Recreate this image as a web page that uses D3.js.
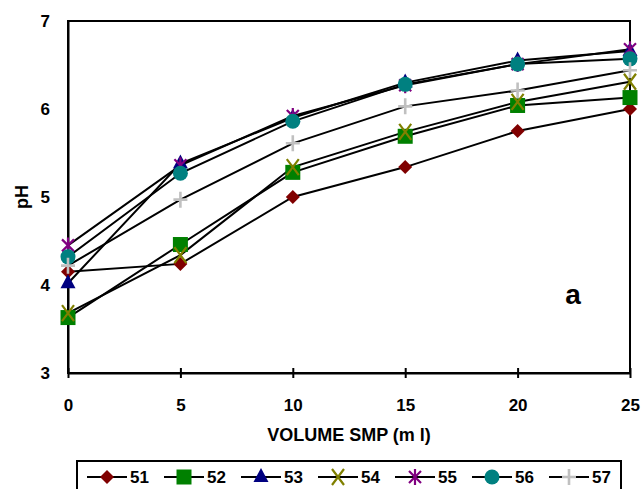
<!DOCTYPE html>
<html>
<head>
<meta charset="utf-8">
<script src="https://cdn.jsdelivr.net/npm/d3@7"></script>
<style>
  body { margin: 0; background: #fff; }
  svg { display: block; font-family: "Liberation Sans", Arial, sans-serif; font-weight: bold; }
</style>
</head>
<body>
<div id="chart"></div>
<script>
// chart data
const volumes = [0, 5, 10, 15, 20, 25];
const seriesNames = ["51", "52", "53", "54", "55", "56", "57"];
const ph51 = [4.15, 4.24, 5.00, 5.34, 5.75, 6.00];
const ph52 = [3.63, 4.46, 5.28, 5.69, 6.04, 6.13];
const ph53 = [4.02, 5.38, 5.90, 6.30, 6.55, 6.66];
const ph54 = [3.68, 4.34, 5.34, 5.74, 6.08, 6.31];
const ph55 = [4.45, 5.36, 5.92, 6.27, 6.51, 6.68];
const ph56 = [4.32, 5.27, 5.86, 6.28, 6.51, 6.57];
const ph57 = [4.22, 4.97, 5.61, 6.03, 6.21, 6.44];
const xTicks = [0, 5, 10, 15, 20, 25];
const yTicks = [3, 4, 5, 6, 7];

const allSeries = [ph51, ph52, ph53, ph54, ph55, ph56, ph57];
const markerColors = ["#800000", "#008000", "#000080", "#808000", "#800080", "#008080", "#c0c0c0"];
const markerShapes = ["diamond", "square", "triangle", "x", "star", "circle", "plus"];

const width = 641, height = 489;
const plot = { left: 68, right: 630, top: 21, bottom: 373 };
const font = "Liberation Sans, Arial, sans-serif";

const svg = d3.select("#chart").append("svg")
  .attr("width", width)
  .attr("height", height);

const x = d3.scaleLinear().domain([0, 25]).range([plot.left, plot.right]);
const y = d3.scaleLinear().domain([3, 7]).range([plot.bottom, plot.top]);

// draw one marker at (cx, cy)
function drawMarker(g, shape, color, cx, cy) {
  const m = g.append("g").attr("transform", `translate(${cx},${cy})`);
  if (shape === "diamond") {
    m.append("path").attr("d", "M0,-7L7,0L0,7L-7,0Z").attr("fill", color);
  } else if (shape === "square") {
    m.append("rect").attr("x", -7.5).attr("y", -7.5).attr("width", 15).attr("height", 15).attr("fill", color);
  } else if (shape === "triangle") {
    m.append("path").attr("d", "M0,-9L7.5,5L-7.5,5Z").attr("fill", color);
  } else if (shape === "circle") {
    m.append("circle").attr("r", 7.5).attr("fill", color);
  } else if (shape === "x") {
    m.append("path").attr("d", "M-6,-8L6,8M6,-8L-6,8")
      .attr("stroke", color).attr("stroke-width", 2.2).attr("fill", "none");
  } else if (shape === "star") {
    m.append("path").attr("d", "M0,-8L0,8M-6,-6L6,6M6,-6L-6,6")
      .attr("stroke", color).attr("stroke-width", 2.2).attr("fill", "none");
  } else if (shape === "plus") {
    m.append("path").attr("d", "M0,-8L0,8M-7,0L7,0")
      .attr("stroke", color).attr("stroke-width", 2.6).attr("fill", "none");
  }
}

// plot frame
svg.append("rect")
  .attr("x", plot.left).attr("y", plot.top)
  .attr("width", plot.right - plot.left).attr("height", plot.bottom - plot.top)
  .attr("fill", "none").attr("stroke", "#000").attr("stroke-width", 2);

// x axis
const xAxis = svg.append("g")
  .attr("transform", `translate(0,${plot.bottom})`)
  .call(d3.axisBottom(x).tickValues(xTicks).tickSize(5).tickSizeOuter(0));
xAxis.select(".domain").attr("stroke", "#000").attr("stroke-width", 2);
xAxis.selectAll(".tick line").attr("y1", -5).attr("stroke", "#000").attr("stroke-width", 2);
xAxis.selectAll(".tick text")
  .attr("y", 26).attr("dy", "0.71em")
  .attr("font-size", 17).attr("font-family", font)
  .attr("font-weight", "bold").attr("fill", "#000");

// y axis
const yAxis = svg.append("g")
  .attr("transform", `translate(${plot.left},0)`)
  .call(d3.axisLeft(y).tickValues(yTicks).tickFormat(d3.format("d")).tickSize(0).tickPadding(18));
yAxis.select(".domain").attr("stroke", "#000").attr("stroke-width", 2);
yAxis.selectAll(".tick text")
  .attr("font-size", 17).attr("font-family", font)
  .attr("font-weight", "bold").attr("fill", "#000");

// axis titles
svg.append("text")
  .attr("x", (plot.left + plot.right) / 2).attr("y", 441)
  .attr("text-anchor", "middle").attr("font-size", 18)
  .text("VOLUME SMP (m l)");

svg.append("text")
  .attr("transform", `translate(28,${(plot.top + plot.bottom) / 2}) rotate(-90)`)
  .attr("text-anchor", "middle").attr("font-size", 18)
  .text("pH");

svg.append("text")
  .attr("x", 573).attr("y", 304)
  .attr("text-anchor", "middle").attr("font-size", 28)
  .text("a");

// lines
const line = d3.line().x((d, i) => x(volumes[i])).y(d => y(d));
svg.append("g").selectAll("path")
  .data(allSeries)
  .enter()
  .append("path")
  .attr("d", line)
  .attr("fill", "none")
  .attr("stroke", "#000")
  .attr("stroke-width", 2);

// markers
const markers = svg.append("g");
allSeries.forEach((vals, s) => {
  vals.forEach((v, i) => drawMarker(markers, markerShapes[s], markerColors[s], x(volumes[i]), y(v)));
});

// legend
const legend = svg.append("g");
legend.append("rect")
  .attr("x", 77).attr("y", 461).attr("width", 544).attr("height", 40)
  .attr("fill", "#fff").attr("stroke", "#000").attr("stroke-width", 2);

const legendY = 477;
seriesNames.forEach((name, s) => {
  const lx = 87 + s * 77;
  legend.append("line")
    .attr("x1", lx).attr("x2", lx + 40)
    .attr("y1", legendY).attr("y2", legendY)
    .attr("stroke", "#000").attr("stroke-width", 2);
  drawMarker(legend, markerShapes[s], markerColors[s], lx + 20, legendY);
  legend.append("text")
    .attr("x", lx + 43).attr("y", legendY).attr("dy", "0.36em")
    .attr("font-size", 17)
    .text(name);
});
</script>
</body>
</html>
